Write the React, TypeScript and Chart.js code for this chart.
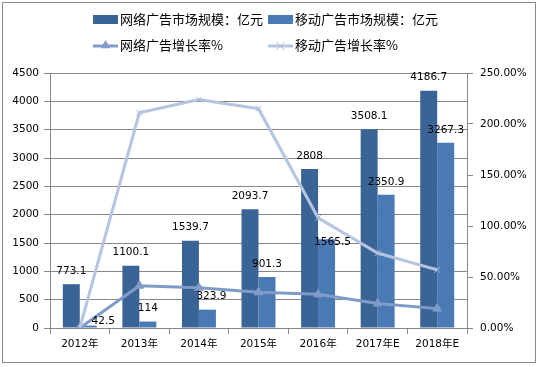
import React, { useEffect, useRef } from "react";
import { Chart, registerables } from "chart.js";

Chart.register(...registerables);

const categories = ["2012年", "2013年", "2014年", "2015年", "2016年", "2017年E", "2018年E"];
const netAdScale = [773.1, 1100.1, 1539.7, 2093.7, 2808, 3508.1, 4186.7];
const mobileAdScale = [42.5, 114, 323.9, 901.3, 1565.5, 2350.9, 3267.3];
const netAdGrowth = [0, 41.5, 39.5, 35, 33, 24, 19];
const mobileAdGrowth = [0, 211, 224, 215, 108, 73.5, 57];
const seriesNames = ["网络广告市场规模：亿元", "移动广告市场规模：亿元", "网络广告增长率%", "移动广告增长率%"];

// label nudges (dx, dy) for data labels that were moved in the original
const netLabelNudge = [[0, 0], [0, 0], [0, 0], [0, 0], [0, 0], [0, 0], [0, 0]];
const mobileLabelNudge = [[15, 9], [0, 0], [4, 0], [0, 0], [6, 16], [0, 0], [0, 0]];

const COLORS = {
  netBar: "#3B6496",
  mobileBar: "#4A7AB4",
  netLine: "#7F9BCA",
  mobileLine: "#B5C5E0",
  grid: "#878787",
  border: "#8A8A8A",
};

const NUM_FONT = '"DejaVu Sans", "Noto Sans CJK SC", sans-serif';
const CJK_FONT = '"Noto Sans CJK SC", "DejaVu Sans", sans-serif';

function drawTriangle(ctx: CanvasRenderingContext2D, x: number, y: number, r: number, color: string) {
  ctx.beginPath();
  ctx.moveTo(x, y - r);
  ctx.lineTo(x + r * 0.95, y + r * 0.65);
  ctx.lineTo(x - r * 0.95, y + r * 0.65);
  ctx.closePath();
  ctx.fillStyle = color;
  ctx.fill();
}

function drawCross(ctx: CanvasRenderingContext2D, x: number, y: number, r: number, color: string) {
  ctx.beginPath();
  ctx.moveTo(x - r, y - r);
  ctx.lineTo(x + r, y + r);
  ctx.moveTo(x + r, y - r);
  ctx.lineTo(x - r, y + r);
  ctx.strokeStyle = color;
  ctx.lineWidth = 1;
  ctx.stroke();
}

const framePlugin = {
  id: "frame",
  beforeDraw(chart: any) {
    const ctx = chart.ctx as CanvasRenderingContext2D;
    ctx.save();
    ctx.fillStyle = "#fff";
    ctx.fillRect(0, 0, chart.width, chart.height);
    ctx.strokeStyle = COLORS.border;
    ctx.lineWidth = 1;
    ctx.strokeRect(2.5, 2.5, 533, 360);
    ctx.restore();
  },
};

const legendPlugin = {
  id: "customLegend",
  afterDraw(chart: any) {
    const ctx = chart.ctx as CanvasRenderingContext2D;
    ctx.save();
    ctx.font = `13px ${CJK_FONT}`;
    ctx.textBaseline = "middle";
    ctx.textAlign = "left";
    const cols = [93, 268];
    const rows = [19, 45];
    const sw = 25;
    [0, 1].forEach((i) => {
      const x = cols[i];
      const y = rows[0];
      ctx.fillStyle = i === 0 ? COLORS.netBar : COLORS.mobileBar;
      ctx.fillRect(x, y - 4, sw, 9);
      ctx.fillStyle = "#000";
      ctx.fillText(seriesNames[i], x + sw + 2, y);
    });
    [2, 3].forEach((i, k) => {
      const x = cols[k];
      const y = rows[1];
      const c = i === 2 ? COLORS.netLine : COLORS.mobileLine;
      ctx.strokeStyle = c;
      ctx.lineWidth = 3;
      ctx.beginPath();
      ctx.moveTo(x, y + 1);
      ctx.lineTo(x + sw, y + 1);
      ctx.stroke();
      if (i === 2) drawTriangle(ctx, x + sw / 2, y, 5, c);
      else drawCross(ctx, x + sw / 2, y + 1, 4, "#A9BCDD");
      ctx.fillStyle = "#000";
      ctx.fillText(seriesNames[i], x + sw + 2, y);
    });
    ctx.restore();
  },
};

const barLabelPlugin = {
  id: "barLabels",
  afterDatasetsDraw(chart: any) {
    const ctx = chart.ctx as CanvasRenderingContext2D;
    ctx.save();
    ctx.font = `10.5px ${NUM_FONT}`;
    ctx.fillStyle = "#000";
    ctx.textAlign = "center";
    ctx.textBaseline = "middle";
    [0, 1].forEach((di) => {
      const meta = chart.getDatasetMeta(di);
      const vals = chart.data.datasets[di].data as number[];
      const nudges = di === 0 ? netLabelNudge : mobileLabelNudge;
      meta.data.forEach((el: any, i: number) => {
        const { x, y } = el.getProps(["x", "y"], true);
        ctx.fillText(String(vals[i]), x + nudges[i][0], y - 13 + nudges[i][1]);
      });
    });
    ctx.restore();
  },
};

export default function App() {
  const ref = useRef<HTMLCanvasElement>(null);

  useEffect(() => {
    document.body.style.margin = "0";
    if (!ref.current) return;
    const chart = new Chart(ref.current, {
      type: "bar",
      data: {
        labels: categories,
        datasets: [
          {
            type: "bar",
            label: seriesNames[0],
            data: netAdScale,
            backgroundColor: COLORS.netBar,
            yAxisID: "y",
            order: 2,
            categoryPercentage: 0.57,
            barPercentage: 1,
          },
          {
            type: "bar",
            label: seriesNames[1],
            data: mobileAdScale,
            backgroundColor: COLORS.mobileBar,
            yAxisID: "y",
            order: 2,
            categoryPercentage: 0.57,
            barPercentage: 1,
          },
          {
            type: "line",
            label: seriesNames[2],
            data: netAdGrowth,
            borderColor: COLORS.netLine,
            backgroundColor: COLORS.netLine,
            borderWidth: 3,
            pointStyle: "triangle",
            pointRadius: 5,
            pointBorderWidth: 1,
            tension: 0,
            yAxisID: "y1",
            order: 1,
          },
          {
            type: "line",
            label: seriesNames[3],
            data: mobileAdGrowth,
            borderColor: COLORS.mobileLine,
            backgroundColor: COLORS.mobileLine,
            borderWidth: 3,
            pointStyle: "crossRot",
            pointRadius: 4,
            pointBorderWidth: 1,
            pointBorderColor: "#A9BCDD",
            tension: 0,
            yAxisID: "y1",
            order: 0,
          },
        ],
      },
      options: {
        responsive: false,
        animation: false,
        layout: { padding: { top: 73, left: 0, right: 0, bottom: 0 } },
        plugins: {
          legend: { display: false },
          tooltip: { enabled: false },
          title: { display: false },
        },
        scales: {
          x: {
            grid: {
              display: true,
              drawOnChartArea: false,
              drawTicks: true,
              tickLength: 6,
              color: COLORS.grid,
              offset: true,
            },
            border: { display: true, color: COLORS.grid, width: 1 },
            ticks: {
              color: "#000",
              font: { family: NUM_FONT, size: 10.5 },
              padding: 4,
              maxRotation: 0,
              autoSkip: false,
            },
            afterFit: (s: any) => {
              s.height = 39;
            },
          },
          y: {
            position: "left",
            min: 0,
            max: 4500,
            ticks: {
              stepSize: 500,
              color: "#000",
              font: { family: NUM_FONT, size: 10.5 },
              padding: 5,
              callback: (v: any) => String(v),
            },
            grid: {
              color: COLORS.grid,
              drawTicks: true,
              tickLength: 6,
              lineWidth: 1,
            },
            border: { display: true, color: COLORS.grid, width: 1 },
            afterFit: (s: any) => {
              s.width = 50;
            },
          },
          y1: {
            position: "right",
            min: 0,
            max: 250,
            ticks: {
              stepSize: 50,
              color: "#000",
              font: { family: NUM_FONT, size: 10.5 },
              padding: 7,
              callback: (v: any) => Number(v).toFixed(2) + "%",
            },
            grid: {
              drawOnChartArea: false,
              drawTicks: true,
              tickLength: 6,
              color: COLORS.grid,
            },
            border: { display: true, color: COLORS.grid, width: 1 },
            afterFit: (s: any) => {
              s.width = 72;
            },
          },
        },
      },
      plugins: [framePlugin, barLabelPlugin, legendPlugin],
    } as any);
    return () => chart.destroy();
  }, []);

  return (
    <div style={{ width: 539, height: 367 }}>
      <canvas ref={ref} width={539} height={367} style={{ display: "block" }} />
    </div>
  );
}
